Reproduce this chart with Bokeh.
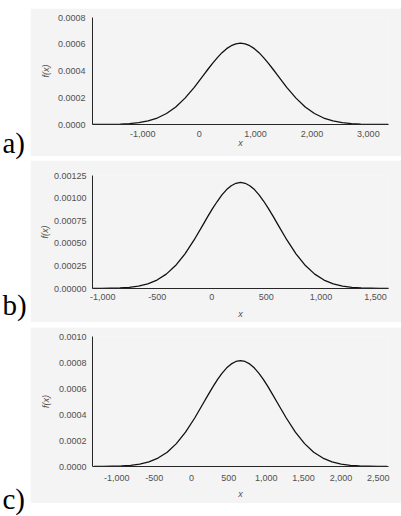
from bokeh.plotting import figure
from bokeh.layouts import row, column
from bokeh.models import Range1d, FixedTicker, NumeralTickFormatter, Spacer
from bokeh.core.properties import value
from bokeh.embed import file_html
from bokeh.resources import INLINE

# ---- data ----
# panel a
xa = [-1892, -1728, -1564, -1400, -1236, -1072, -908, -744, -580, -416, -252, -88, 76,
      158, 240, 322, 404, 486, 568, 650, 732, 814, 896, 978, 1060, 1142, 1224, 1306,
      1388, 1552, 1716, 1880, 2044, 2208, 2372, 2536, 2700, 2864, 3028, 3192, 3356]
ya = [0.0000002, 0.0000005, 0.0000013, 0.0000031, 0.0000068, 0.0000139, 0.0000267, 0.0000484,
      0.0000823, 0.000131, 0.000197, 0.000278, 0.000369,
      0.000415, 0.000459, 0.000500, 0.000537, 0.000567, 0.000589, 0.000603, 0.000608,
      0.000603, 0.000589, 0.000567, 0.000537, 0.000500, 0.000459, 0.000415,
      0.000369, 0.000278, 0.000197, 0.000131, 0.0000823, 0.0000484, 0.0000267, 0.0000139,
      0.0000068, 0.0000031, 0.0000013, 0.0000005, 0.0000002]
xa_range = (-1893, 3357)
xa_ticks = [-1000, 0, 1000, 2000, 3000]
ya_ticks = [0.0, 0.0002, 0.0004, 0.0006, 0.0008]

# panel b
xb = [-1097, -1012, -927, -842, -757, -672, -587, -502, -417, -332, -247, -162, -77,
      -35, 8, 51, 93, 136, 178, 221, 263, 306, 348, 391, 433, 476, 518, 561,
      603, 688, 773, 858, 943, 1028, 1113, 1198, 1283, 1368, 1453, 1538, 1623]
yb = [0.0000004, 0.0000010, 0.0000026, 0.0000060, 0.0000130, 0.0000267, 0.0000516, 0.0000934,
      0.000159, 0.000254, 0.000381, 0.000537, 0.000712,
      0.000800, 0.000886, 0.000965, 0.001036, 0.001094, 0.001137, 0.001164, 0.001173,
      0.001164, 0.001137, 0.001094, 0.001036, 0.000965, 0.000886, 0.000800,
      0.000712, 0.000537, 0.000381, 0.000254, 0.000159, 0.0000934, 0.0000516, 0.0000267,
      0.0000130, 0.0000060, 0.0000026, 0.0000010, 0.0000004]
xb_range = (-1093, 1619)
xb_ticks = [-1000, -500, 0, 500, 1000, 1500]
yb_ticks = [0.0, 0.00025, 0.0005, 0.00075, 0.001, 0.00125]

# panel c
xc = [-1305, -1183, -1060, -938, -815, -693, -570, -448, -325, -203, -80, 43, 165,
      226, 288, 349, 410, 471, 533, 594, 655, 716, 778, 839, 900, 961, 1023, 1084,
      1145, 1268, 1390, 1513, 1635, 1758, 1880, 2003, 2125, 2248, 2370, 2493, 2615]
yc = [0.0000003, 0.0000007, 0.0000018, 0.0000041, 0.0000090, 0.0000186, 0.0000358, 0.0000648,
      0.000110, 0.000176, 0.000264, 0.000373, 0.000494,
      0.000555, 0.000614, 0.000670, 0.000718, 0.000759, 0.000789, 0.000808, 0.000814,
      0.000808, 0.000789, 0.000759, 0.000718, 0.000670, 0.000614, 0.000555,
      0.000494, 0.000373, 0.000264, 0.000176, 0.000110, 0.0000648, 0.0000358, 0.0000186,
      0.0000090, 0.0000041, 0.0000018, 0.0000007, 0.0000003]
xc_range = (-1325, 2636)
xc_ticks = [-1000, -500, 0, 500, 1000, 1500, 2000, 2500]
yc_ticks = [0.0, 0.0002, 0.0004, 0.0006, 0.0008, 0.001]

panel_labels = ["a)", "b)", "c)"]

BG = "#f4f4f4"
TICK_COL = "#505050"
SANS = "Liberation Sans"


def panel(x, y, xr, yr, xt, yt, yfmt, h, left, top, bottom,
          xls, xas, yls, yas):
    p = figure(width=371, height=h, x_range=Range1d(*xr), y_range=Range1d(*yr),
               output_backend="svg", toolbar_location=None,
               min_border_left=left, min_border_right=13,
               min_border_top=top, min_border_bottom=bottom,
               background_fill_color=BG, border_fill_color=BG, outline_line_color=None)
    p.line(x, y, line_color="#111111", line_width=1.3, line_join="round")
    p.xgrid.visible = False
    p.ygrid.visible = False
    for ax in (p.xaxis[0], p.yaxis[0]):
        ax.major_tick_line_color = None
        ax.minor_tick_line_color = None
        ax.major_tick_out = 0
        ax.major_tick_in = 0
        ax.axis_line_color = "#262626"
        ax.axis_line_width = 1
        ax.major_label_text_font = SANS
        ax.major_label_text_font_size = "9px"
        ax.major_label_text_color = TICK_COL
        ax.axis_label_text_font = SANS
        ax.axis_label_text_font_size = "9px"
        ax.axis_label_text_font_style = "italic"
        ax.axis_label_text_color = TICK_COL
    p.xaxis.ticker = FixedTicker(ticks=xt)
    p.yaxis.ticker = FixedTicker(ticks=yt)
    p.xaxis.formatter = NumeralTickFormatter(format="0,0")
    p.yaxis.formatter = NumeralTickFormatter(format=yfmt)
    p.xaxis.axis_label = "x"
    p.yaxis.axis_label = "f(x)"
    p.xaxis.major_label_standoff = xls
    p.xaxis.axis_label_standoff = xas
    p.yaxis.major_label_standoff = yls
    p.yaxis.axis_label_standoff = yas
    return p


pa = panel(xa, ya, xa_range, (0, 0.0008), xa_ticks, ya_ticks, "0.0000", 148, 62, 9, 32, 6, -2, 7, 4)
pb = panel(xb, yb, xb_range, (0, 0.00125), xb_ticks, yb_ticks, "0.00000", 162, 61, 15, 34, 5, 6, 6, 1)
pc = panel(xc, yc, xc_range, (0, 0.001), xc_ticks, yc_ticks, "0.0000", 176, 53, 9, 37, 8, 5, 6, 5)

lab = figure(width=30, height=507, x_range=Range1d(0, 30), y_range=Range1d(507, 0),
             output_backend="svg", toolbar_location=None, min_border=0,
             outline_line_color=None, background_fill_color="white", border_fill_color="white")
lab.axis.visible = False
lab.grid.visible = False
lab.text(x=[2, 2, 2], y=[134, 296, 490], text=panel_labels,
         text_font=value("Liberation Serif"), text_font_size="29px",
         text_color="black", text_baseline="middle", text_align="left")

plots = column(pa, Spacer(height=4), pb, Spacer(height=5), pc, spacing=0)
root = row(lab, plots, spacing=0, margin=(8, 0, 0, 0))

open("out.html", "w").write(file_html(root, INLINE))
